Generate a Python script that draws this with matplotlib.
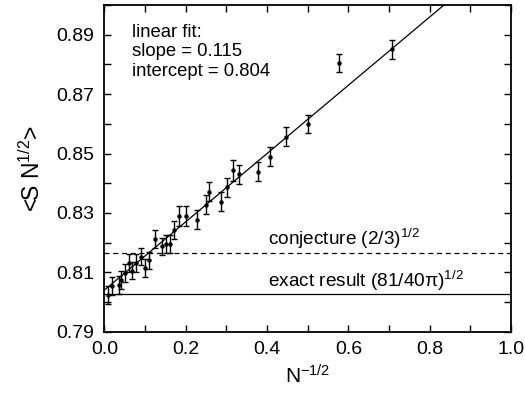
import matplotlib
matplotlib.use("Agg")
import numpy as np
import matplotlib.pyplot as plt
from matplotlib.ticker import MultipleLocator, FormatStrFormatter

plt.rcParams['font.family'] = ['Liberation Sans', 'DejaVu Sans']
plt.rcParams['mathtext.default'] = 'regular'

# data: N^-1/2, <S N^1/2>, error
x_vals = [0.010, 0.019, 0.036, 0.041, 0.051, 0.060, 0.069, 0.079, 0.090, 0.100,
          0.111, 0.125, 0.141, 0.151, 0.161, 0.171, 0.183, 0.200, 0.229, 0.249,
          0.257, 0.288, 0.301, 0.316, 0.332, 0.377, 0.407, 0.446, 0.500, 0.577,
          0.708]
y_vals = [0.8024, 0.8055, 0.8058, 0.8075, 0.8097, 0.8131, 0.8106, 0.8131, 0.8153, 0.8114,
          0.8140, 0.8212, 0.8187, 0.8196, 0.8196, 0.8243, 0.8291, 0.8291, 0.8277, 0.8327,
          0.8372, 0.8338, 0.8387, 0.8443, 0.8431, 0.8439, 0.8490, 0.8557, 0.8600, 0.8806,
          0.8851]
y_err = [0.0030, 0.0030, 0.0030, 0.0030, 0.0030, 0.0030, 0.0030, 0.0030, 0.0030, 0.0030,
         0.0030, 0.0030, 0.0030, 0.0030, 0.0030, 0.0031, 0.0034, 0.0034, 0.0032, 0.0032,
         0.0033, 0.0032, 0.0032, 0.0035, 0.0032, 0.0031, 0.0031, 0.0031, 0.0031, 0.0030,
         0.0031]

slope = 0.115
intercept = 0.804
conjecture = np.sqrt(2.0 / 3.0)
exact = np.sqrt(81.0 / (40.0 * np.pi))

fig = plt.figure(figsize=(5.25, 3.93), dpi=100)
ax = fig.add_axes([0.1987, 0.156, 0.7747, 0.831])

ax.errorbar(x_vals, y_vals, yerr=y_err, fmt='o', color='black', ms=2.2,
            elinewidth=1.0, capsize=2.2, capthick=1.0, zorder=3)

xf = np.array([0.0, 1.0])
ax.plot(xf, intercept + slope * xf, color='black', lw=0.9)
ax.axhline(conjecture, color='black', lw=0.9, ls=(0, (4, 3)))
ax.axhline(exact, color='black', lw=0.9)

ax.text(0.402, 0.8193, 'conjecture (2/3)$^{1/2}$', fontsize=13.7, ha='left', va='baseline')
ax.text(0.402, 0.8051, r'exact result (81/40$\pi$)$^{1/2}$', fontsize=13.7, ha='left', va='baseline')
ax.text(0.068, 0.8937, 'linear fit:\nslope = 0.115\nintercept = 0.804', fontsize=13.3,
        ha='left', va='top', linespacing=1.2)

ax.set_xlim(0, 1.0)
ax.set_ylim(0.79, 0.90)
ax.xaxis.set_major_locator(MultipleLocator(0.2))
ax.xaxis.set_minor_locator(MultipleLocator(0.1))
ax.xaxis.set_major_formatter(FormatStrFormatter('%.1f'))
ax.set_yticks([0.79, 0.81, 0.83, 0.85, 0.87, 0.89])
ax.yaxis.set_minor_locator(MultipleLocator(0.01))
ax.tick_params(which='both', direction='in', top=True, right=True, length=5, width=1.0,
               labelsize=14)
ax.tick_params(axis='x', pad=7)
ax.tick_params(axis='y', pad=7)
for s in ax.spines.values():
    s.set_linewidth(1.3)

ax.set_xlabel('N$^{-1/2}$', fontsize=15, labelpad=4)
ax.set_ylabel('<S N$^{1/2}$>', fontsize=16.5, labelpad=8)

fig.savefig('out.png', dpi=100)
